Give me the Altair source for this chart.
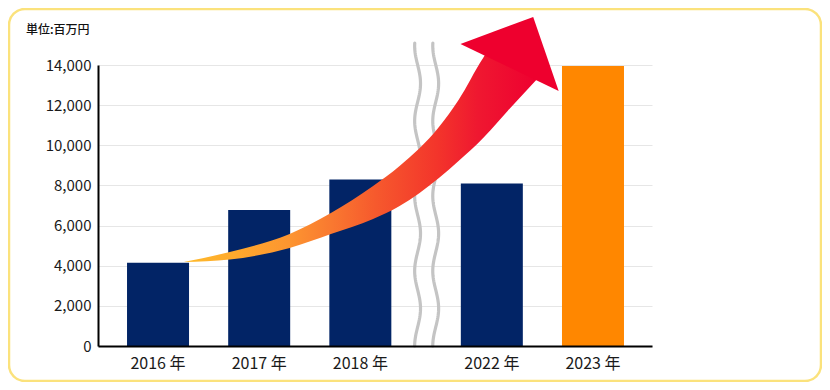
import altair as alt
import pandas as pd
import numpy as np

FONT = "Noto Sans CJK JP"

# ---- data ----
years = ["2016 年", "2017 年", "2018 年", "2022 年", "2023 年"]
values = [4150, 6780, 8300, 8100, 13950]
bar_colors = ["#022466", "#022466", "#022466", "#022466", "#FF8700"]
slots = [0, 1, 2, 3.3, 4.3]          # category slots; wider gap = axis break
y_ticks = [0, 2000, 4000, 6000, 8000, 10000, 12000, 14000]
unit_label = "単位:百万円"

# decorative arrow (data units)
arrow_x = [0.252, 0.709, 1.301, 1.709, 2.126, 2.388, 2.777, 2.971, 3.214, 3.359, 3.456, 3.748]
arrow_top = [4185, 4683, 5580, 6626, 7972, 8968, 10911, 12256, 14349, 15345, 15246, 14996]
arrow_bottom = [4185, 4310, 4883, 5580, 6327, 6975, 8370, 9217, 10363, 11160, 11708, 13302]
head_x = [2.990, 3.709, 3.961]
head_top = [15046, 16391, 12705]
head_bottom = [15046, 13312, 12705]

# axis-break glyph
break_centers = [2.566, 2.745]
break_top = 15096

W, H = 554, 281
x_dom = [-0.544, 4.834]
y_dom = [0, 14000]

x_scale = alt.Scale(domain=x_dom, nice=False, zero=False)
y_scale = alt.Scale(domain=y_dom, nice=False)

x_axis = alt.Axis(labels=False, ticks=False, grid=False, domainColor="#000000",
                  domainWidth=2, zindex=1, title=None)
y_axis = alt.Axis(values=y_ticks, labelExpr="format(datum.value, ',')",
                  labelFontSize=15, labelColor="#1a1a1a",
                  labelFont=FONT, labelPadding=7, ticks=False, domainColor="#000000",
                  domainWidth=2, gridColor="#e6e6e6", gridWidth=1, title=None)


def X(field="x"):
    return alt.X(f"{field}:Q", scale=x_scale, axis=x_axis, title=None)


def Y(field="y"):
    return alt.Y(f"{field}:Q", scale=y_scale, axis=y_axis, title=None)


bars_df = pd.DataFrame({"x": slots, "y": values, "year": years})

bars = alt.Chart(bars_df).mark_bar(size=62, orient="vertical").encode(
    x=X(), y=Y(),
    color=alt.Color("year:N", scale=alt.Scale(domain=years, range=bar_colors), legend=None),
)

labels = alt.Chart(bars_df).mark_text(
    font=FONT, fontSize=16, color="#1a1a1a", baseline="middle", align="center"
).encode(x=X(), y=alt.value(H + 18), text="year:N")

# wavy break lines
rows = []
vs = np.linspace(0, break_top, 160)
for i, c in enumerate(break_centers):
    for j, v in enumerate(vs):
        rows.append({"x": c - 0.029 * np.cos(2 * np.pi * v / 3737.0), "y": v,
                     "line": i, "o": j})
break_df = pd.DataFrame(rows)
breaks = alt.Chart(break_df).mark_line(
    stroke="#c4c4c4", strokeWidth=3.2, strokeCap="round"
).encode(x=X(), y=Y(), detail="line:N", order="o:Q")

grad = alt.LinearGradient(
    gradient="linear",
    stops=[
        alt.GradientStop(color="#ffbb2a", offset=0),
        alt.GradientStop(color="#fd9530", offset=0.3),
        alt.GradientStop(color="#f97830", offset=0.42),
        alt.GradientStop(color="#f65a2d", offset=0.54),
        alt.GradientStop(color="#f3342b", offset=0.72),
        alt.GradientStop(color="#ef1830", offset=0.83),
        alt.GradientStop(color="#ee0030", offset=1),
    ],
    x1=0, x2=1, y1=0, y2=0,
)

body_df = pd.DataFrame({"x": arrow_x, "y": arrow_top, "y2": arrow_bottom})
body = alt.Chart(body_df).mark_area(
    color=grad, interpolate="monotone", orient="vertical"
).encode(x=X(), y=Y(), y2="y2:Q")

head_df = pd.DataFrame({"x": head_x, "y": head_top, "y2": head_bottom})
head = alt.Chart(head_df).mark_area(
    color="#ee002e", interpolate="linear", orient="vertical"
).encode(x=X(), y=Y(), y2="y2:Q")

unit = alt.Chart(pd.DataFrame({"t": [unit_label]})).mark_text(
    font=FONT, fontSize=12, fontWeight=500, color="#111111", align="left",
    baseline="middle"
).encode(x=alt.value(-72), y=alt.value(-35), text="t:N")

border = alt.Chart(pd.DataFrame({"a": [0]})).mark_rect(
    fillOpacity=0, stroke="#fbe27c", strokeWidth=2.5, cornerRadius=16
).encode(x=alt.value(-89), x2=alt.value(W + 169), y=alt.value(-56), y2=alt.value(H + 35))

chart = alt.layer(border, bars, breaks, body, head, labels, unit).properties(
    width=W, height=H,
    autosize=alt.AutoSizeParams(type="none"),
    padding={"left": 90, "top": 57, "right": 170, "bottom": 36},
    background="#ffffff",
).configure_view(strokeWidth=0)

chart.save("out.html", embed_options={"renderer": "svg", "actions": False})
